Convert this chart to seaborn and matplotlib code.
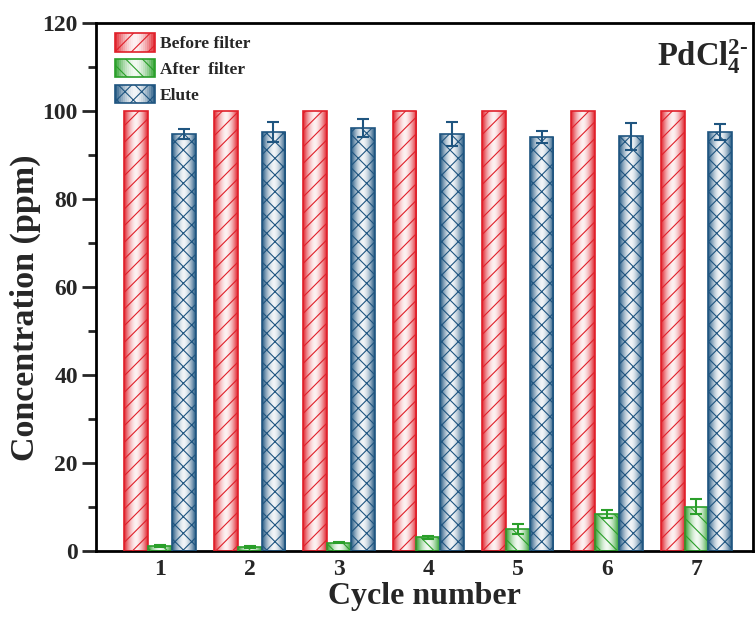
import numpy as np
import pandas as pd
import matplotlib
matplotlib.use("Agg")
import matplotlib.pyplot as plt
import seaborn as sns
from matplotlib.ticker import MultipleLocator
from matplotlib.colors import to_rgb
from matplotlib.patches import Patch, Rectangle
from matplotlib.legend_handler import HandlerBase

# ---------------- data ----------------
cycles = ["1", "2", "3", "4", "5", "6", "7"]
series = ["Before filter", "After  filter", "Elute"]
before = [100, 100, 100, 100, 100, 100, 100]
before_err = [0, 0, 0, 0, 0, 0, 0]
after = [1.1, 0.9, 1.9, 3.1, 5.0, 8.4, 10.1]
after_err = [0.2, 0.2, 0.2, 0.4, 1.1, 1.0, 1.8]
elute = [94.7, 95.2, 96.1, 94.7, 94.0, 94.2, 95.1]
elute_err = [1.1, 2.2, 2.0, 2.7, 1.4, 3.1, 1.8]
y_ticks = [0, 20, 40, 60, 80, 100, 120]

colors = ["#e0202a", "#2a9f2a", "#1f5580"]
hatches = ["//", "\\\\", "xx"]

df = pd.DataFrame({
    "Cycle": cycles * 3,
    "Conc": before + after + elute,
    "Series": [series[0]] * 7 + [series[1]] * 7 + [series[2]] * 7,
})
errs = [before_err, after_err, elute_err]

# ---------------- style ----------------
sns.set_style("ticks")
plt.rcParams["font.family"] = ["Liberation Serif", "DejaVu Serif"]
plt.rcParams["font.weight"] = "bold"
plt.rcParams["mathtext.fontset"] = "custom"
plt.rcParams["mathtext.rm"] = "Liberation Serif:bold"
plt.rcParams["mathtext.bf"] = "Liberation Serif:bold"
plt.rcParams["mathtext.it"] = "Liberation Serif:bold"
plt.rcParams["hatch.linewidth"] = 0.8


def grad_weights(t):
    return 0.06 + 0.94 * np.abs(t) ** 1.7


def mix(col, w):
    c = np.array(to_rgb(col))
    return (1 - w) * np.ones(3) + w * c


fig = plt.figure(figsize=(7.55, 6.17), dpi=100)
ax = fig.add_axes([0.127, 0.107, 0.870, 0.856])

sns.barplot(data=df, x="Cycle", y="Conc", hue="Series", palette=colors,
            errorbar=None, width=0.8, saturation=1, ax=ax, legend=False)


def gradient_image(col, n=64):
    t = np.linspace(-1, 1, n)
    rgb = np.array([mix(col, w) for w in grad_weights(t)])
    return rgb[None, :, :]


for cont, col, hat, err in zip(ax.containers, colors, hatches, errs):
    img = gradient_image(col)
    xs, hs = [], []
    for p in cont.patches:
        x0, w, h = p.get_x(), p.get_width(), p.get_height()
        p.set_facecolor("none")
        p.set_edgecolor(col)
        p.set_hatch(hat)
        p.set_linewidth(1.2)
        p.set_zorder(3)
        im = ax.imshow(img, extent=(x0, x0 + w, 0, h), aspect="auto",
                       origin="lower", zorder=2, interpolation="bilinear")
        im.set_clip_path(p)
        xs.append(x0 + w / 2)
        hs.append(h)
    if any(e > 0 for e in err):
        ax.errorbar(xs, hs, yerr=err, fmt="none", ecolor=col, elinewidth=1.5,
                    capsize=4.3, capthick=1.5, zorder=4)

ax.set_xlim(-0.72, 6.63)
ax.set_ylim(0, 120)
ax.set_yticks(y_ticks)
ax.yaxis.set_minor_locator(MultipleLocator(10))

for s in ax.spines.values():
    s.set_linewidth(2.0)
    s.set_color("black")

ax.tick_params(axis="y", which="major", length=10, width=2, direction="out",
               labelsize=17, pad=3)
ax.tick_params(axis="y", which="minor", length=6, width=2, direction="out")
ax.tick_params(axis="x", which="both", length=0, labelsize=17, pad=6)
for lab in ax.get_xticklabels() + ax.get_yticklabels():
    lab.set_fontweight("bold")

ax.set_xlabel("Cycle number", fontsize=23, fontweight="bold", labelpad=1)
ax.set_ylabel("Concentration (ppm)", fontsize=24.5, fontweight="bold")
ax.yaxis.set_label_coords(-0.083, 0.46)


class GradHandler(HandlerBase):
    def create_artists(self, legend, orig_handle, xdescent, ydescent,
                       width, height, fontsize, trans):
        col = orig_handle.get_edgecolor()
        hatch = orig_handle.get_hatch()
        n = 20
        arts = []
        for i in range(n):
            t = (i + 0.5) / n * 2 - 1
            r = Rectangle((-xdescent + i * width / n, -ydescent), width / n * 1.05,
                          height, facecolor=mix(col, grad_weights(t)),
                          edgecolor="none", transform=trans)
            arts.append(r)
        outline = Rectangle((-xdescent, -ydescent), width, height,
                            facecolor="none", edgecolor=col, hatch=hatch,
                            linewidth=1.2, transform=trans)
        arts.append(outline)
        return arts


handles = [Patch(facecolor="none", edgecolor=col, hatch=hat, label=lab)
           for lab, col, hat in zip(series, colors, hatches)]
ax.legend(handles=handles, loc="upper left", bbox_to_anchor=(0.01, 1.003),
          frameon=False, handlelength=2.3, handleheight=1.25,
          handletextpad=0.3, labelspacing=0.38, borderaxespad=0.3,
          prop={"weight": "bold", "size": 12.5},
          handler_map={Patch: GradHandler()})

ax.text(0.993, 0.918, r"$\mathbf{PdCl}_{\mathbf{4}}^{\mathbf{2\text{-}}}$",
        transform=ax.transAxes, ha="right", va="baseline", fontsize=23.5)

fig.savefig("out.png", dpi=100, facecolor="white")
